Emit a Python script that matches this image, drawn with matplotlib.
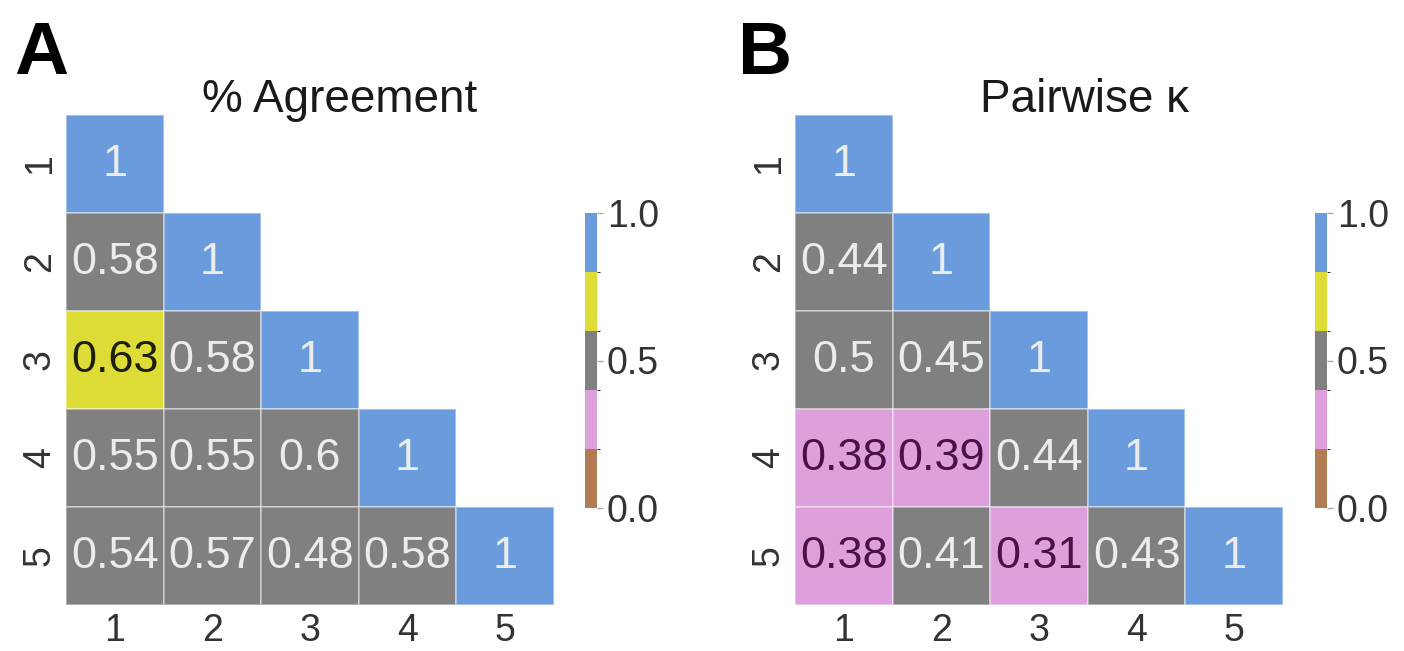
import matplotlib
matplotlib.use("Agg")
import matplotlib.pyplot as plt
from matplotlib.colors import ListedColormap, BoundaryNorm
from matplotlib.cm import ScalarMappable
from matplotlib.patches import Rectangle
import numpy as np

plt.rcParams['font.family'] = ['Liberation Sans', 'DejaVu Sans']

raters = ["1", "2", "3", "4", "5"]

# lower triangle, row by row
agreement = [
    [1],
    [0.58, 1],
    [0.63, 0.58, 1],
    [0.55, 0.55, 0.6, 1],
    [0.54, 0.57, 0.48, 0.58, 1],
]
kappa = [
    [1],
    [0.44, 1],
    [0.5, 0.45, 1],
    [0.38, 0.39, 0.44, 1],
    [0.38, 0.41, 0.31, 0.43, 1],
]

breaks = [0.0, 0.2, 0.4, 0.6, 0.8, 1.0]
bin_colors = ["#b07d52", "#dda0dd", "#808080", "#dedc36", "#6a9bdc"]
text_colors = ["#2a1a08", "#4a1048", "#ececec", "#1e1e00", "#ececec"]

W, H = 1404, 651
fig = plt.figure(figsize=(W / 100, H / 100), dpi=100)


def panel(left_px, cbar_px, tri, title, title_x, letter, letter_x):
    ax = fig.add_axes([left_px / W, 1 - 605 / H, 488 / W, 490 / H])
    n = len(raters)
    for i, row in enumerate(tri):
        for j, v in enumerate(row):
            # right-closed bins: (0.4, 0.6] etc.
            k = max(int(np.digitize(v, breaks, right=True)) - 1, 0)
            ax.add_patch(Rectangle((j, i), 1, 1, facecolor=bin_colors[k],
                                   edgecolor=(1, 1, 1, 0.45), lw=1.2))
            ax.text(j + 0.5, i + 0.5, f"{v:g}", ha="center", va="center",
                    fontsize=32.5, color=text_colors[k])
    ax.set_xlim(0, n)
    ax.set_ylim(n, 0)
    ax.set_xticks(np.arange(n) + 0.5)
    ax.set_xticklabels(raters, fontsize=27, color="#333333")
    ax.set_yticks(np.arange(n) + 0.5)
    ax.set_yticklabels(raters, fontsize=27, color="#333333", rotation=90,
                       va="center")
    ax.tick_params(length=0, pad=6)
    for s in ax.spines.values():
        s.set_visible(False)

    cax = fig.add_axes([cbar_px / W, 1 - 508 / H, 12 / W, 295 / H])
    sm = ScalarMappable(norm=BoundaryNorm(breaks, len(bin_colors)),
                        cmap=ListedColormap(bin_colors))
    cb = fig.colorbar(sm, cax=cax, ticks=[0.0, 0.5, 1.0])
    cb.ax.set_yticklabels(["0.0", "0.5", "1.0"], fontsize=27, color="#333333")
    cb.ax.tick_params(length=4, width=1, color="#aaaaaa", pad=3)
    cb.outline.set_visible(False)

    fig.text(title_x / W, 1 - 112 / H, title, ha="center", va="baseline",
             fontsize=33, color="#1a1a1a")
    fig.text(letter_x / W, 1 - 74 / H, letter, ha="left", va="baseline",
             fontsize=54, fontweight="bold", color="black")


panel(66, 585, agreement, "% Agreement", 340, "A", 14)
panel(795, 1315, kappa, "Pairwise κ", 1085, "B", 738)

fig.savefig("out.png", dpi=100, facecolor="white")
